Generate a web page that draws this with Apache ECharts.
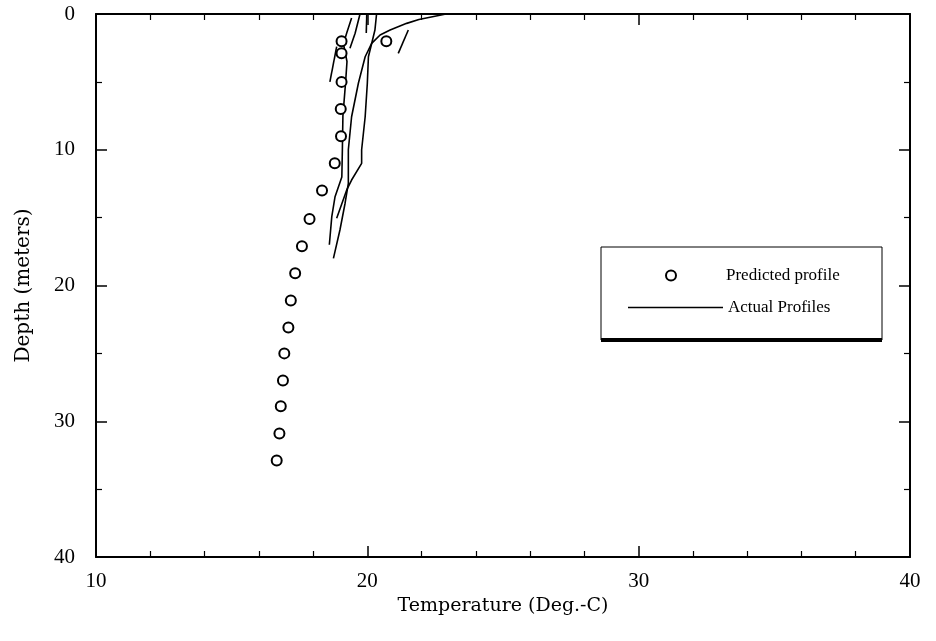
<!DOCTYPE html>
<html>
<head>
<meta charset="utf-8">
<script src="https://cdn.jsdelivr.net/npm/echarts@6/dist/echarts.min.js"></script>
<style>
html,body{margin:0;padding:0;background:#fff;}
#chart{width:936px;height:641px;}
</style>
</head>
<body>
<div id="chart"></div>
<script>
// Axis ticks
const xTicks = [10, 20, 30, 40];
const yTicks = [0, 10, 20, 30, 40];

// Predicted profile (circles)
const predictedTemp  = [20.7, 19.05, 19.05, 19.05, 19.02, 19.03, 18.8, 18.33, 17.87, 17.59, 17.34, 17.18, 17.09, 16.94, 16.89, 16.81, 16.76, 16.66];
const predictedDepth = [2.0, 2.0, 2.9, 5.0, 7.0, 9.0, 11.0, 13.0, 15.1, 17.1, 19.1, 21.1, 23.1, 25.0, 27.0, 28.9, 30.9, 32.9];

// Actual profiles (lines)
const profile1Temp  = [22.9, 21.9, 21.45, 20.84, 20.47, 20.16, 19.92, 19.67, 19.42, 19.3, 19.3, 19.3, 19.18, 18.99, 18.75];
const profile1Depth = [0, 0.4, 0.69, 1.18, 1.55, 2.16, 3.15, 5.1, 7.57, 10.0, 11.0, 12.47, 13.94, 15.91, 18.0];
const profile2Temp  = [20.34, 20.28, 20.16, 20.04, 20.0, 19.92, 19.79, 19.79, 19.42, 19.24, 18.87];
const profile2Depth = [0, 1.18, 2.17, 3.15, 5.1, 7.57, 10.0, 11.0, 12.23, 12.96, 15.05];
const profile3Temp  = [19.42, 19.24, 19.12, 19.25, 19.2, 19.1, 19.08, 19.06, 18.81, 18.69, 18.6];
const profile3Depth = [0.3, 1.4, 2.2, 3.5, 5.0, 7.5, 10.0, 12.0, 13.46, 14.93, 17.0];
const profile4Temp  = [19.73, 19.55, 19.36];
const profile4Depth = [0, 1.42, 2.53];
const profile5Temp  = [19.98, 19.96];
const profile5Depth = [0, 1.4];
const profile6Temp  = [18.87, 18.62];
const profile6Depth = [2.4, 5.0];
const profile7Temp  = [21.51, 21.14];
const profile7Depth = [1.18, 2.9];

const zip = (a, b) => a.map((v, i) => [v, b[i]]);
const profiles = [
  [profile1Temp, profile1Depth],
  [profile2Temp, profile2Depth],
  [profile3Temp, profile3Depth],
  [profile4Temp, profile4Depth],
  [profile5Temp, profile5Depth],
  [profile6Temp, profile6Depth],
  [profile7Temp, profile7Depth]
];

const FONT = 'Liberation Serif';
const chart = echarts.init(document.getElementById('chart'), null, {renderer: 'canvas'});

const axisLine = {show: true, onZero: false, lineStyle: {color: '#000', width: 2}};
const axisTick = {show: true, inside: true, length: 11, lineStyle: {color: '#000', width: 1.5}};
const minorX = {show: true, splitNumber: 5, length: 6, lineStyle: {color: '#000', width: 1.2}};
const minorY = {show: true, splitNumber: 2, length: 6, lineStyle: {color: '#000', width: 1.2}};

const lineSeries = profiles.map(p => ({
  name: 'Actual Profiles',
  type: 'line',
  data: zip(p[0], p[1]),
  showSymbol: false,
  symbol: 'none',
  lineStyle: {color: '#000', width: 1.6},
  itemStyle: {color: '#000'},
  silent: true,
  z: 2
}));

chart.setOption({
  animation: false,
  backgroundColor: '#fff',
  grid: {left: 96, right: 26, top: 14, bottom: 84},
  xAxis: [
    {
      type: 'value', min: xTicks[0], max: xTicks[xTicks.length - 1], interval: 10,
      position: 'bottom',
      name: 'Temperature (Deg.-C)', nameLocation: 'middle', nameGap: 33,
      nameTextStyle: {fontFamily: 'DejaVu Serif', fontSize: 19, color: '#000'},
      axisLabel: {fontFamily: FONT, fontSize: 21, color: '#000', margin: 14},
      axisLine: axisLine, axisTick: axisTick, minorTick: minorX, splitLine: {show: false}
    },
    {
      type: 'value', min: xTicks[0], max: xTicks[xTicks.length - 1], interval: 10,
      position: 'top',
      axisLabel: {show: false},
      axisLine: axisLine, axisTick: axisTick, minorTick: minorX, splitLine: {show: false}
    }
  ],
  yAxis: [
    {
      type: 'value', min: yTicks[0], max: yTicks[yTicks.length - 1], interval: 10, inverse: true,
      position: 'left',
      name: 'Depth (meters)', nameLocation: 'middle', nameGap: 62, nameRotate: 90,
      nameTextStyle: {fontFamily: 'DejaVu Serif', fontSize: 20, color: '#000'},
      axisLabel: {fontFamily: FONT, fontSize: 21, color: '#000', margin: 21},
      axisLine: axisLine, axisTick: axisTick, minorTick: minorY, splitLine: {show: false}
    },
    {
      type: 'value', min: yTicks[0], max: yTicks[yTicks.length - 1], interval: 10, inverse: true,
      position: 'right',
      axisLabel: {show: false},
      axisLine: axisLine, axisTick: axisTick, minorTick: minorY, splitLine: {show: false}
    }
  ],
  legend: [
    {
      data: ['Predicted profile'],
      left: 660, top: 262, orient: 'vertical',
      icon: 'circle',
      itemWidth: 10, itemHeight: 10,
      itemStyle: {color: '#fff', borderColor: '#000', borderWidth: 2},
      textStyle: {fontFamily: FONT, fontSize: 17, color: '#000', padding: [0, 0, 6, 45]},
      selectedMode: false
    },
    {
      data: ['Actual Profiles'],
      left: 623, top: 294, orient: 'vertical',
      icon: 'rect',
      itemWidth: 95, itemHeight: 1.6,
      itemStyle: {color: '#000', borderWidth: 0},
      textStyle: {fontFamily: FONT, fontSize: 17, color: '#000'},
      selectedMode: false
    }
  ],
  graphic: [
    {type: 'rect', shape: {x: 601, y: 247, width: 281, height: 93},
     style: {fill: 'none', stroke: '#000', lineWidth: 1}, z: 0, silent: true},
    {type: 'line', shape: {x1: 601, y1: 340, x2: 882, y2: 340},
     style: {stroke: '#000', lineWidth: 4}, z: 1, silent: true}
  ],
  series: lineSeries.concat([{
    name: 'Predicted profile',
    type: 'scatter',
    data: zip(predictedTemp, predictedDepth),
    symbol: 'circle',
    symbolSize: 10,
    itemStyle: {color: '#fff', borderColor: '#000', borderWidth: 2, opacity: 1},
    silent: true,
    z: 3
  }])
});
</script>
</body>
</html>
